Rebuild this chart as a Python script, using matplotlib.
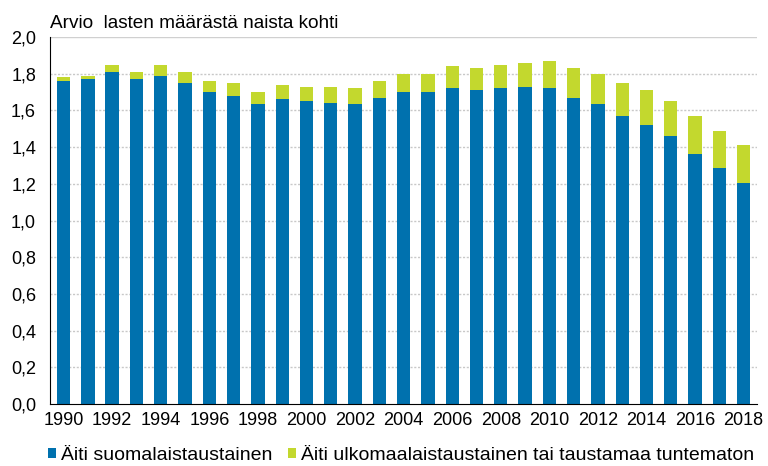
import numpy as np
import matplotlib
matplotlib.use('Agg')
import matplotlib.pyplot as plt

plt.rcParams['font.family'] = ['Liberation Sans', 'DejaVu Sans']

# Data: total fertility rate split by mother's background
years = list(range(1990, 2019))
total = [1.78, 1.79, 1.85, 1.81, 1.85, 1.81, 1.76, 1.75, 1.70, 1.74,
         1.73, 1.73, 1.72, 1.76, 1.80, 1.80, 1.84, 1.83, 1.85, 1.86,
         1.87, 1.83, 1.80, 1.75, 1.71, 1.65, 1.57, 1.49, 1.41]
finnish = [1.76, 1.77, 1.81, 1.77, 1.79, 1.75, 1.70, 1.68, 1.635, 1.66,
           1.65, 1.64, 1.635, 1.67, 1.70, 1.70, 1.72, 1.71, 1.72, 1.73,
           1.72, 1.67, 1.635, 1.57, 1.52, 1.46, 1.365, 1.285, 1.205]
foreign = [t - f for t, f in zip(total, finnish)]

labels = ['Äiti suomalaistaustainen', 'Äiti ulkomaalaistaustainen tai taustamaa tuntematon']
title = 'Arvio  lasten määrästä naista kohti'

blue = '#0071ae'
green = '#c3d82e'
fs = 13

fig = plt.figure(figsize=(7.68, 4.66), dpi=100)
ax = fig.add_axes([0.0651, 0.133, 0.9206, 0.7876])

x = np.arange(len(years))
ax.bar(x, finnish, width=0.55, color=blue, label=labels[0], zorder=3)
ax.bar(x, foreign, width=0.55, bottom=finnish, color=green, label=labels[1], zorder=3)

ax.set_xlim(-0.56, len(years) - 0.45)
ax.set_ylim(0, 2.0)
yt = np.arange(0, 2.01, 0.2)
ax.set_yticks(yt)
ax.set_yticklabels([f'{v:.1f}'.replace('.', ',') for v in yt], fontsize=fs)
ax.set_xticks(x[::2])
ax.set_xticklabels([str(y) for y in years[::2]], fontsize=fs)
ax.tick_params(axis='y', length=0, pad=10)
ax.tick_params(axis='x', length=0, pad=6)

for v in yt[1:-1]:
    ax.axhline(v, color='#c8c8c8', lw=1, ls=(0, (1.5, 1.2)), zorder=1)
ax.axhline(2.0, color='#d0d0d0', lw=1, zorder=1)

for s in ['top', 'right']:
    ax.spines[s].set_visible(False)
ax.spines['left'].set_color('black')
ax.spines['bottom'].set_color('black')
ax.spines['bottom'].set_zorder(4)

fig.text(0.065, 1 - 28 / 466, title, fontsize=13.7, va='baseline', ha='left')

fig.legend(loc='center left', bbox_to_anchor=(0.0625, 1 - 455 / 466), ncol=2,
           frameon=False, fontsize=14, handlelength=0.42, handleheight=0.42,
           handletextpad=0.26, columnspacing=0.77, borderpad=0, borderaxespad=0)

fig.savefig('out.png', dpi=100)
